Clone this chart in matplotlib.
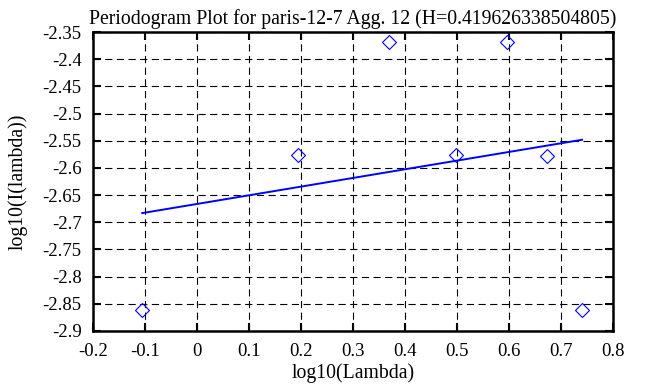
import numpy as np
import matplotlib
matplotlib.use("Agg")
import matplotlib.pyplot as plt

# periodogram points
log_lambda = [-0.105, 0.195, 0.37, 0.497, 0.595, 0.673, 0.74]
log_I = [-2.862, -2.577, -2.368, -2.576, -2.368, -2.578, -2.862]

xticks = [-0.2, -0.1, 0, 0.1, 0.2, 0.3, 0.4, 0.5, 0.6, 0.7, 0.8]
yticks = [-2.9, -2.85, -2.8, -2.75, -2.7, -2.65, -2.6, -2.55, -2.5, -2.45, -2.4, -2.35]

plt.rcParams['font.family'] = ['Liberation Serif', 'DejaVu Serif']
plt.rcParams['font.size'] = 13.5

fig = plt.figure(figsize=(6.63, 3.87), dpi=100)
ax = fig.add_axes([0.140, 0.145, 0.785, 0.772])

# least squares fit through the points
slope, icept = np.polyfit(log_lambda, log_I, 1)
xf = np.array([min(log_lambda), max(log_lambda)])
ax.plot(xf, icept + slope * xf, color='#0000ff', lw=1.4)

ax.plot(log_lambda, log_I, linestyle='none', marker='D', markersize=7.5,
        markerfacecolor='none', markeredgecolor='#0000ff', markeredgewidth=0.8)

ax.set_xlim(-0.2, 0.8)
ax.set_ylim(-2.9, -2.35)
ax.set_xticks(xticks)
ax.set_xticklabels([('%g' % t) for t in xticks])
ax.set_yticks(yticks)
ax.set_yticklabels([('%g' % t) for t in yticks])

ax.grid(True, color='black', linestyle=(0, (6.5, 4)), linewidth=0.8)
ax.tick_params(direction='in', length=6, width=1.5, top=True, right=True)
ax.tick_params(axis='x', pad=9)
ax.tick_params(axis='y', pad=8)
for s in ax.spines.values():
    s.set_linewidth(1.8)

ax.set_title('Periodogram Plot for paris-12-7 Agg. 12 (H=0.419626338504805)', fontsize=14.2, pad=6)
ax.set_xlabel('log10(Lambda)', fontsize=14.2, labelpad=2)
ax.set_ylabel('log10(I(lambda))', fontsize=14.2, labelpad=11)

fig.savefig('out.png', dpi=100)
